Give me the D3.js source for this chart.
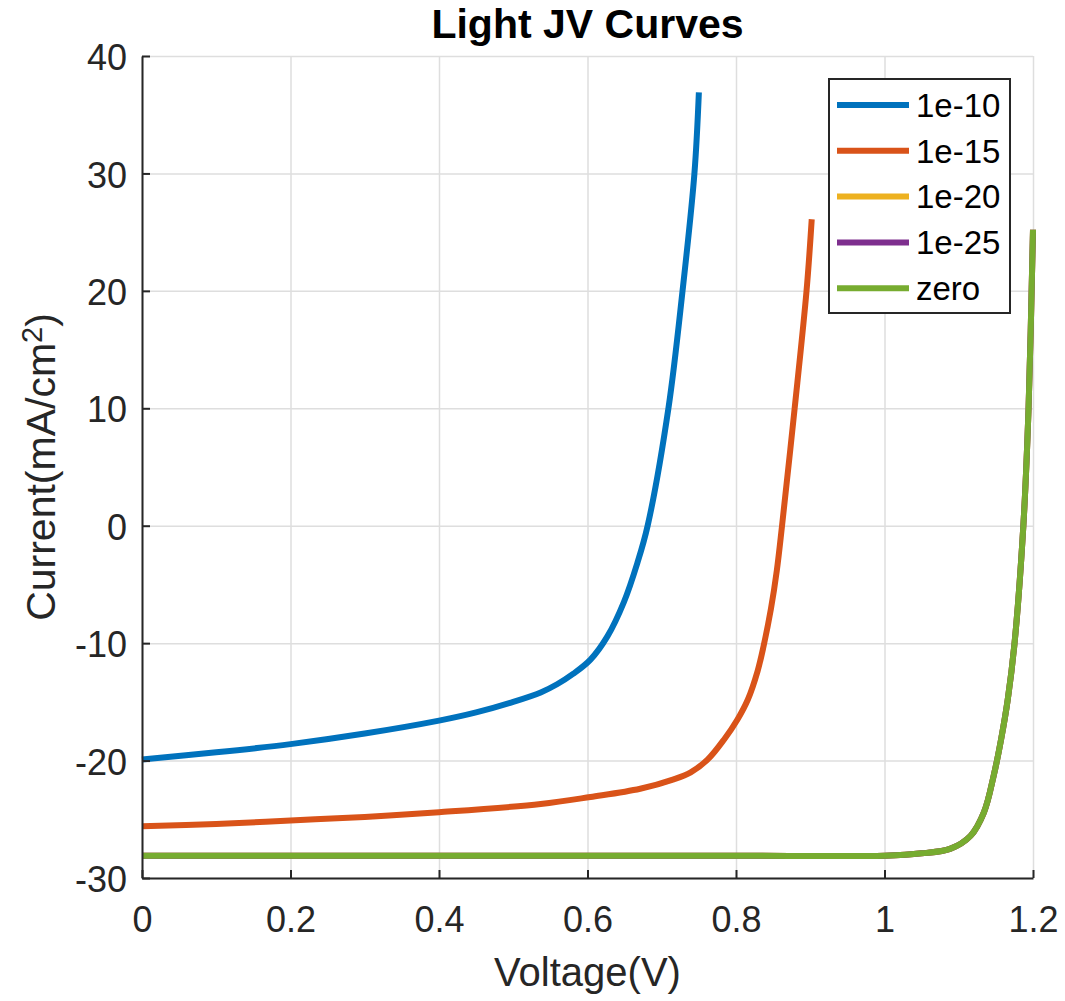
<!DOCTYPE html>
<html>
<head>
<meta charset="utf-8">
<script src="https://cdn.jsdelivr.net/npm/d3@7"></script>
<style>
  body { margin: 0; background: #fff; }
  svg { display: block; font-family: "Liberation Sans", Arial, Helvetica, sans-serif; }
</style>
</head>
<body>
<div id="chart"></div>
<script>
// Series readings (voltage V, current mA/cm^2)
const v1e10 = [0, 0.1, 0.2, 0.3, 0.4, 0.45, 0.5, 0.537, 0.559, 0.581, 0.604, 0.627, 0.649, 0.667, 0.681, 0.709, 0.728, 0.744, 0.75];
const j1e10 = [-19.9, -19.3, -18.6, -17.7, -16.6, -15.9, -15.0, -14.2, -13.5, -12.6, -11.4, -9.4, -6.5, -3.2, 0, 10, 20, 30, 36.9];

const v1e15 = [0, 0.1, 0.2, 0.3, 0.4, 0.537, 0.604, 0.671, 0.716, 0.739, 0.762, 0.784, 0.802, 0.816, 0.829, 0.837, 0.847, 0.855, 0.862, 0.879, 0.895, 0.902];
const j1e15 = [-25.6, -25.4, -25.1, -24.8, -24.4, -23.7, -23.1, -22.4, -21.6, -21.0, -19.9, -18.2, -16.5, -14.8, -12.4, -10.3, -7.1, -3.8, 0, 10, 20, 26.1];

const vZero = [0, 0.2, 0.4, 0.6, 0.8, 1.0, 1.05, 1.089, 1.116, 1.134, 1.147, 1.157, 1.166, 1.175, 1.187, 1.194, 1.2];
const jZero = [-28.1, -28.1, -28.1, -28.1, -28.1, -28.1, -27.9, -27.5, -26.4, -24.4, -21.3, -18.2, -14.8, -10.1, 0, 10, 25.2];

// 1e-20 and 1e-25 lie exactly under the "zero" curve in the picture
const v1e20 = vZero, j1e20 = jZero;
const v1e25 = vZero, j1e25 = jZero;

const seriesNames = ["1e-10", "1e-15", "1e-20", "1e-25", "zero"];
const colors = ["#0072BD", "#D95319", "#EDB120", "#7E2F8E", "#77AC30"];

const xTicks = [0, 0.2, 0.4, 0.6, 0.8, 1, 1.2];
const yTicks = [-30, -20, -10, 0, 10, 20, 30, 40];

const w = 1065;
const h = 1001;
const margin = { left: 142, right: 32, top: 56, bottom: 123 };
const ink = "#262626";

const series = [
  [v1e10, j1e10], [v1e15, j1e15], [v1e20, j1e20], [v1e25, j1e25], [vZero, jZero]
].map(([vs, js], i) => ({
  name: seriesNames[i],
  color: colors[i],
  pts: vs.map((v, k) => [v, js[k]])
}));

const xScale = d3.scaleLinear().domain([0, 1.2]).range([margin.left, w - margin.right]);
const yScale = d3.scaleLinear().domain([-30, 40]).range([h - margin.bottom, margin.top]);

const svg = d3.select("#chart").append("svg").attr("width", w).attr("height", h);

// Grid
svg.append("g")
  .attr("transform", `translate(0, ${h - margin.bottom})`)
  .call(d3.axisBottom(xScale).tickValues(xTicks).tickSize(-(h - margin.top - margin.bottom)).tickFormat(""))
  .call(g => g.select(".domain").remove())
  .selectAll("line").attr("stroke", "#dedede").attr("stroke-width", 1.5);

svg.append("g")
  .attr("transform", `translate(${margin.left}, 0)`)
  .call(d3.axisLeft(yScale).tickValues(yTicks).tickSize(-(w - margin.left - margin.right)).tickFormat(""))
  .call(g => g.select(".domain").remove())
  .selectAll("line").attr("stroke", "#dedede").attr("stroke-width", 1.5);

// Curves
const line = d3.line()
  .x(d => xScale(d[0]))
  .y(d => yScale(d[1]))
  .curve(d3.curveCatmullRom.alpha(0.5));

svg.append("g")
  .selectAll("path")
  .data(series)
  .enter()
  .append("path")
  .attr("d", d => line(d.pts))
  .attr("fill", "none")
  .attr("stroke", d => d.color)
  .attr("stroke-width", 6);

// Axes (ticks pointing inward)
const xAxis = svg.append("g")
  .attr("transform", `translate(0, ${h - margin.bottom})`)
  .call(d3.axisBottom(xScale).tickValues(xTicks).tickSizeInner(-8).tickSizeOuter(0).tickPadding(28).tickFormat(d => String(d)));

const yAxis = svg.append("g")
  .attr("transform", `translate(${margin.left}, 0)`)
  .call(d3.axisLeft(yScale).tickValues(yTicks).tickSizeInner(-8).tickSizeOuter(0).tickPadding(15).tickFormat(d => String(d)));

[xAxis, yAxis].forEach(g => {
  g.select(".domain").attr("stroke", ink).attr("stroke-width", 2);
  g.selectAll(".tick line").attr("stroke", ink).attr("stroke-width", 2);
  g.selectAll(".tick text")
    .attr("fill", ink)
    .style("font-size", "36px")
    .style("font-family", "'Liberation Sans', Arial, Helvetica, sans-serif");
});
yAxis.selectAll(".tick text").attr("dy", "0.38em");

// Title & labels
svg.append("text")
  .attr("x", (margin.left + w - margin.right) / 2)
  .attr("y", 38)
  .attr("text-anchor", "middle")
  .style("font-size", "41px")
  .style("font-weight", "bold")
  .attr("fill", "#000")
  .text("Light JV Curves");

svg.append("text")
  .attr("x", (margin.left + w - margin.right) / 2)
  .attr("y", 986)
  .attr("text-anchor", "middle")
  .style("font-size", "40px")
  .attr("fill", ink)
  .text("Voltage(V)");

const yLabel = svg.append("text")
  .attr("transform", `translate(55, ${(margin.top + h - margin.bottom) / 2}) rotate(-90)`)
  .attr("text-anchor", "middle")
  .style("font-size", "41px")
  .attr("fill", ink);
yLabel.append("tspan").text("Current(mA/cm");
yLabel.append("tspan").attr("dy", "-0.45em").style("font-size", "29px").text("2");
yLabel.append("tspan").attr("dy", "0.32em").text(")");

// Legend
const legend = svg.append("g");
legend.append("rect")
  .attr("x", 829)
  .attr("y", 79)
  .attr("width", 181)
  .attr("height", 234)
  .attr("fill", "#fff")
  .attr("stroke", ink)
  .attr("stroke-width", 2);

const rows = legend.selectAll("g.row")
  .data(series)
  .enter()
  .append("g")
  .attr("class", "row")
  .attr("transform", (d, i) => `translate(0, ${105 + i * 45.8})`);

rows.append("line")
  .attr("x1", 837)
  .attr("x2", 909)
  .attr("stroke", d => d.color)
  .attr("stroke-width", 6);

rows.append("text")
  .attr("x", 916)
  .attr("dy", "0.36em")
  .style("font-size", "33px")
  .attr("fill", "#000")
  .text(d => d.name);
</script>
</body>
</html>
